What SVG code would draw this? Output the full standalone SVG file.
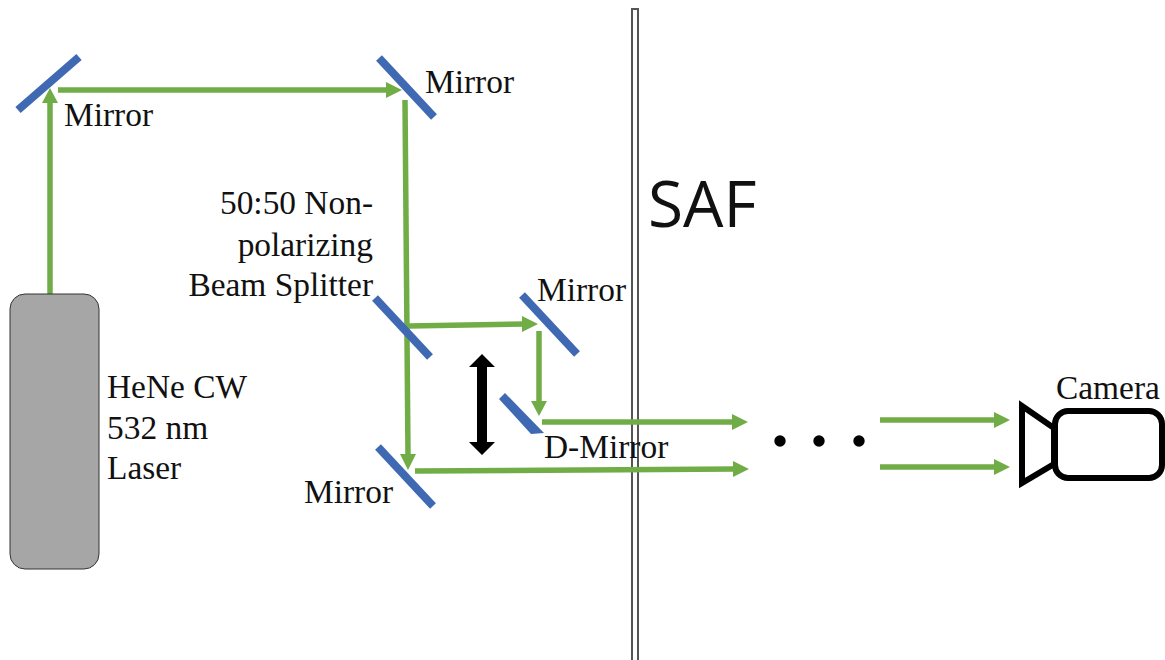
<svg xmlns="http://www.w3.org/2000/svg" width="1165" height="660" viewBox="0 0 1165 660">
<style>
text{font-family:"Liberation Serif","Times New Roman",serif;font-size:33.4px;fill:#111}
.m{stroke:#3f69b3;stroke-width:8;fill:none}
.b{stroke:#70ad47;stroke-width:5.5;fill:none}
.h{fill:#70ad47}
.w{stroke:#555;stroke-width:2;fill:none}
.k{stroke:#000;stroke-width:6;fill:#fff;stroke-linejoin:miter}
</style>
<rect width="1165" height="660" fill="#fff"/>
<g id="wall"><path class="w" d="M632 660V9H638V660"/></g>
<g id="connectors">
<path class="b" d="M50 294V102"/><polygon class="h" points="50,88 58,103 42,103"/>
<path class="b" d="M58 90H388"/><polygon class="h" points="402,90 386,82 386,98"/>
<path class="b" d="M405 100L408 455"/><polygon class="h" points="408,470 400,454 416,454"/>
<path class="b" d="M409 326L525 324"/><polygon class="h" points="538,324 522,316 522,332"/>
<path class="b" d="M539 331V405"/><polygon class="h" points="539,416 531,401 547,401"/>
<path class="b" d="M542 422H735"/><polygon class="h" points="748,422 732,414 732,430"/>
<path class="b" d="M415 471L735 469"/><polygon class="h" points="749,469 733,461 733,477"/>
<path class="b" d="M880 420H996"/><polygon class="h" points="1010,420 994,412 994,428"/>
<path class="b" d="M880 467H996"/><polygon class="h" points="1010,467 994,459 994,475"/>
</g>
<g id="laser"><rect x="10" y="294" width="89" height="275" rx="15" fill="#a6a6a6" stroke="#333" stroke-width="1"/>
<text x="107" y="398">HeNe CW</text><text x="107" y="439">532 nm</text><text x="107" y="479">Laser</text></g>
<g id="mirror1"><line class="m" x1="18" y1="110" x2="79" y2="57"/><text x="64" y="126">Mirror</text></g>
<g id="mirror2"><line class="m" x1="379" y1="58" x2="434" y2="117"/><text x="425" y="93">Mirror</text></g>
<g id="splitter"><line class="m" x1="375" y1="298" x2="430" y2="357"/>
<text x="373" y="214" text-anchor="end">50:50 Non-</text><text x="373" y="256" text-anchor="end">polarizing</text><text x="373" y="296" text-anchor="end">Beam Splitter</text></g>
<g id="mirror3"><line class="m" x1="522" y1="295" x2="577" y2="354"/><text x="537" y="301">Mirror</text></g>
<g id="dmirror"><polygon points="499,399 505,393 544,433 531,434" fill="#3f69b3"/><text x="544" y="458">D-Mirror</text></g>
<g id="mirror4"><line class="m" x1="378" y1="447" x2="433" y2="506"/><text x="304" y="503">Mirror</text></g>
<g id="stage"><polygon points="482,354 495,367 487,367 487,442 495,442 482,455 469,442 477,442 477,367 469,367" fill="#000"/></g>
<g id="saf"><text x="648" y="227" style="font-family:'Open Sans','Noto Sans',sans-serif;font-size:64px">SAF</text></g>
<g id="dots" fill="#000"><circle cx="780" cy="441" r="5.7"/><circle cx="819" cy="441" r="5.7"/><circle cx="859" cy="441" r="5.7"/></g>
<g id="camera"><polygon class="k" points="1022,406 1054,428 1054,464 1022,483"/><rect class="k" x="1055" y="411" width="107" height="67" rx="13"/><text x="1056" y="399">Camera</text></g>
</svg>
